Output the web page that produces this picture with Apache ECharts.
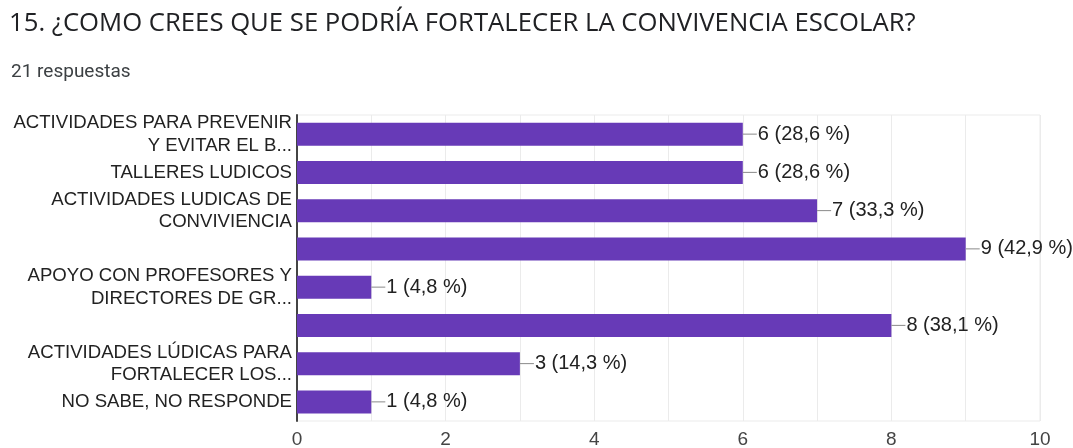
<!DOCTYPE html>
<html>
<head>
<meta charset="utf-8">
<script src="https://cdn.jsdelivr.net/npm/echarts@6/dist/echarts.min.js"></script>
<style>
html,body{margin:0;padding:0;background:#fff;}
#chart{width:1073px;height:448px;}
</style>
</head>
<body>
<div id="chart"></div>
<script>
var titleText = '15. ¿COMO CREES QUE SE PODRÍA FORTALECER LA CONVIVENCIA ESCOLAR?';
var subtitleText = '21 respuestas';
var totalResponses = 21;
var categories = [
  'ACTIVIDADES PARA PREVENIR\nY EVITAR EL B...',
  'TALLERES LUDICOS',
  'ACTIVIDADES LUDICAS DE\nCONVIVIENCIA',
  '',
  'APOYO CON PROFESORES Y\nDIRECTORES DE GR...',
  '',
  'ACTIVIDADES LÚDICAS PARA\nFORTALECER LOS...',
  'NO SABE, NO RESPONDE'
];
var values = [6, 6, 7, 9, 1, 8, 3, 1];
var xMin = 0, xMax = 10, xInterval = 2;

function pctLabel(v) {
  var p = (v / totalResponses * 100).toFixed(1).replace('.', ',');
  return v + ' (' + p + ' %)';
}

var chart = echarts.init(document.getElementById('chart'), null, {renderer: 'canvas'});
chart.setOption({
  animation: false,
  backgroundColor: '#ffffff',
  title: [
    {text: titleText, left: 4, top: 6,
     textStyle: {fontFamily: 'Open Sans', fontSize: 25.7, fontWeight: 'normal', color: '#202124'}},
    {text: subtitleText, left: 6, top: 58,
     textStyle: {fontFamily: 'Roboto', fontSize: 19, fontWeight: 'normal', color: '#3c4043'}}
  ],
  grid: {left: 297, right: 33, top: 115, bottom: 27, outerBoundsMode: 'none', containLabel: false,
         show: true, borderColor: '#ebebeb', borderWidth: 1},
  xAxis: {
    type: 'value', min: xMin, max: xMax, interval: xInterval,
    axisLine: {show: false}, axisTick: {show: false},
    axisLabel: {margin: 9, fontFamily: 'Liberation Sans', fontSize: 19, color: '#444'},
    splitLine: {show: true, lineStyle: {color: '#ebebeb', width: 1}},
    minorTick: {show: false, splitNumber: 2},
    minorSplitLine: {show: true, lineStyle: {color: '#ebebeb', width: 1}}
  },
  yAxis: {
    type: 'category', data: categories, inverse: true,
    axisLine: {show: true, lineStyle: {color: '#444', width: 2}},
    axisTick: {show: false},
    axisLabel: {margin: 5, fontFamily: 'Liberation Sans', fontSize: 18.6, lineHeight: 22.5, color: '#222', align: 'right'}
  },
  series: [{
    type: 'bar', data: values, barWidth: 23,
    itemStyle: {color: '#673ab7'},
    label: {
      show: true, position: 'right', distance: 0,
      formatter: function (p) { return '{ln|}{v|' + pctLabel(p.value) + '}'; },
      rich: {
        ln: {width: 14, height: 1, backgroundColor: '#888'},
        v: {fontFamily: 'Liberation Sans', fontSize: 20, color: '#222', padding: [0, 0, 0, 1]}
      }
    }
  }]
});
</script>
</body>
</html>
